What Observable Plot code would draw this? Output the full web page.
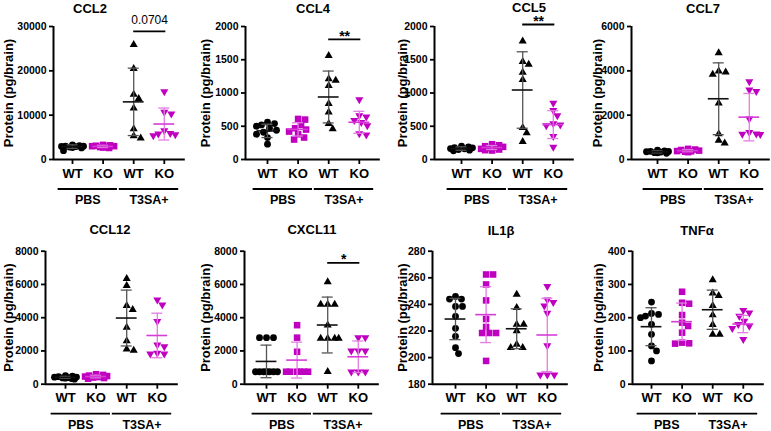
<!DOCTYPE html>
<html><head><meta charset="utf-8">
<script src="https://cdn.jsdelivr.net/npm/d3@7"></script>
<script src="https://cdn.jsdelivr.net/npm/@observablehq/plot@0.6"></script>
<style>
body{margin:0;background:#fff;}
#root{position:relative;width:771px;height:431px;overflow:hidden;background:#fff;font-family:Arial,"Liberation Sans",sans-serif;}
.panel{position:absolute;}
.title{position:absolute;transform:translate(-50%,-50%);font-weight:bold;font-size:13px;line-height:13px;white-space:nowrap;color:#000;}
</style></head><body><div id="root"></div>
<script>
// ---------- categories & labels ----------
const groupNames = ["PBS WT", "PBS KO", "T3SA+ WT", "T3SA+ KO"];
const genotypeLabels = ["WT", "KO", "WT", "KO"];
const treatmentLabels = ["PBS", "T3SA+"];
const panelTitles = ["CCL2", "CCL4", "CCL5", "CCL7", "CCL12", "CXCL11", "IL1β", "TNFα"];
const yLabel = "Protein (pg/brain)";

// ---------- tick labels ----------
const ccl2Ticks = [0, 10000, 20000, 30000];
const ccl4Ticks = [0, 500, 1000, 1500, 2000];
const ccl5Ticks = [0, 500, 1000, 1500, 2000];
const ccl7Ticks = [0, 2000, 4000, 6000];
const ccl12Ticks = [0, 2000, 4000, 6000, 8000];
const cxcl11Ticks = [0, 2000, 4000, 6000, 8000];
const il1bTicks = [180, 200, 220, 240, 260, 280];
const tnfaTicks = [0, 100, 200, 300, 400];

// ---------- values (per group: PBS WT, PBS KO, T3SA+ WT, T3SA+ KO) ----------
const ccl2Values = [
  [3300, 3100, 3000, 2950, 2900, 2800, 2700, 3000, 2600, 2000],
  [3300, 3200, 3100, 3000, 2900, 2800, 2700, 2600, 3000],
  [25900, 20500, 14700, 13700, 11600, 6900, 4800, 5300],
  [15300, 10700, 10300, 6500, 5900, 5800, 5600, 5400]];
const ccl2Means = [2900, 2950, 13000, 8000];
const ccl2SDs = [400, 250, 7600, 3600];
const ccl2Sig = {from: 2, to: 3, y: 28900, label: "0.0704"};

const ccl4Values = [
  [560, 540, 520, 500, 470, 440, 410, 380, 330, 230],
  [610, 600, 520, 470, 450, 420, 380, 330, 300],
  [1560, 1210, 1190, 1110, 840, 710, 540, 460],
  [900, 660, 640, 590, 560, 510, 390, 370]];
const ccl4Means = [430, 453, 940, 560];
const ccl4SDs = [100, 100, 390, 165];
const ccl4Sig = {from: 2, to: 3, y: 1805, label: "**"};

const ccl5Values = [
  [200, 190, 180, 175, 165, 160, 150, 140, 130],
  [230, 215, 200, 190, 180, 170, 160, 150, 140, 135],
  [1780, 1470, 1430, 1310, 1200, 480, 400, 270],
  [850, 740, 660, 540, 520, 510, 350, 185]];
const ccl5Means = [165, 180, 1045, 525];
const ccl5SDs = [25, 30, 575, 210];
const ccl5Sig = {from: 2, to: 3, y: 2030, label: "**"};

const ccl7Values = [
  [420, 390, 370, 350, 330, 310, 300, 280, 360],
  [480, 450, 430, 400, 380, 370, 350, 330],
  [4810, 3990, 3940, 3840, 2540, 1150, 860, 740],
  [3520, 3140, 3080, 1830, 1230, 1160, 1130, 1150]];
const ccl7Means = [345, 400, 2740, 1910];
const ccl7SDs = [45, 50, 1620, 1070];

const ccl12Values = [
  [520, 480, 450, 430, 420, 400, 380, 360, 340, 300],
  [600, 560, 520, 490, 460, 430, 400, 370, 330],
  [6350, 5930, 4720, 4480, 3420, 2610, 2110, 2030],
  [5080, 4780, 3780, 2370, 2270, 1870, 1830, 1830]];
const ccl12Means = [410, 460, 3980, 2930];
const ccl12SDs = [60, 80, 1680, 1340];

const cxcl11Values = [
  [2800, 2800, 2800, 750, 750, 750, 750, 750, 750, 750],
  [3550, 2800, 1950, 750, 750, 750, 750, 750, 750],
  [6150, 4800, 4800, 4800, 3550, 2750, 2750, 2750, 2750, 750],
  [2800, 2800, 2000, 2000, 2000, 750, 750, 750]];
const cxcl11Means = [1370, 1450, 3560, 1650];
const cxcl11SDs = [980, 1080, 1680, 950];
const cxcl11Sig = {from: 2, to: 3, y: 7296, label: "*"};

const il1bValues = [
  [246, 244, 244, 238.5, 238.5, 231, 222, 216, 207.5, 203],
  [262.5, 262.5, 255, 243, 229, 223, 218.5, 218.5, 218.5, 197.5],
  [247.5, 237.5, 225, 225, 220, 210, 207.5, 207.5],
  [253.5, 243.5, 241.5, 239, 233.5, 209, 187, 187, 187]];
const il1bMeans = [229, 232.3, 221.7, 217];
const il1bSDs = [15.5, 21, 15, 27.5];

const tnfaValues = [
  [247, 213, 210, 205, 200, 180, 150, 115, 100, 70],
  [278, 245, 242, 208, 185, 175, 155, 125, 123, 122],
  [314, 274, 266, 236, 208, 179, 150, 150],
  [222, 215, 205, 190, 180, 175, 168, 135]];
const tnfaMeans = [173, 188, 224, 181];
const tnfaSDs = [57, 56, 59, 26];

// ---------- assemble panels from the named arrays ----------
const panels = [
  {title: panelTitles[0], ticks: ccl2Ticks, values: ccl2Values, means: ccl2Means, sds: ccl2SDs, sig: ccl2Sig},
  {title: panelTitles[1], ticks: ccl4Ticks, values: ccl4Values, means: ccl4Means, sds: ccl4SDs, sig: ccl4Sig},
  {title: panelTitles[2], ticks: ccl5Ticks, values: ccl5Values, means: ccl5Means, sds: ccl5SDs, sig: ccl5Sig},
  {title: panelTitles[3], ticks: ccl7Ticks, values: ccl7Values, means: ccl7Means, sds: ccl7SDs, sig: null},
  {title: panelTitles[4], ticks: ccl12Ticks, values: ccl12Values, means: ccl12Means, sds: ccl12SDs, sig: null},
  {title: panelTitles[5], ticks: cxcl11Ticks, values: cxcl11Values, means: cxcl11Means, sds: cxcl11SDs, sig: cxcl11Sig},
  {title: panelTitles[6], ticks: il1bTicks, values: il1bValues, means: il1bMeans, sds: il1bSDs, sig: null},
  {title: panelTitles[7], ticks: tnfaTicks, values: tnfaValues, means: tnfaMeans, sds: tnfaSDs, sig: null}
];

// ---------- layout (pixels) ----------
const STEP = 30.6, FRAME_H = 133;
const layout = [
  {left: 0,   top: 0,   width: 200, height: 215, frameTop: 26,    axisX: 53,  g0: 72,  titleX: 90,  titleY: 8,   yLabelX: 8},
  {left: 190, top: 0,   width: 200, height: 215, frameTop: 26,    axisX: 245, g0: 267, titleX: 313, titleY: 8,   yLabelX: 205},
  {left: 380, top: 0,   width: 200, height: 215, frameTop: 26,    axisX: 434, g0: 461, titleX: 529, titleY: 6.5, yLabelX: 402},
  {left: 570, top: 0,   width: 201, height: 215, frameTop: 26,    axisX: 631, g0: 657, titleX: 703, titleY: 8,   yLabelX: 597},
  {left: 0,   top: 215, width: 200, height: 216, frameTop: 250.7, axisX: 45,  g0: 65,  titleX: 110, titleY: 229, yLabelX: 8},
  {left: 190, top: 215, width: 200, height: 216, frameTop: 250.7, axisX: 244, g0: 266, titleX: 312, titleY: 229, yLabelX: 205},
  {left: 380, top: 215, width: 200, height: 216, frameTop: 250.7, axisX: 432, g0: 455, titleX: 501, titleY: 230, yLabelX: 402},
  {left: 570, top: 215, width: 201, height: 216, frameTop: 250.7, axisX: 632, g0: 651, titleX: 697, titleY: 230, yLabelX: 598}
];

const WT_DOT = "#000000", KO_DOT = "#c000c0";
const WT_MEAN = "#111111", WT_BAR = "#555555", KO_MEAN = "#d63cd6", KO_BAR = "#e27de2";

const triangleDown = {
  draw(context, size) {
    const y = -Math.sqrt(size / (Math.sqrt(3) * 3));
    context.moveTo(0, -y * 2);
    context.lineTo(-Math.sqrt(3) * y, y);
    context.lineTo(Math.sqrt(3) * y, y);
    context.closePath();
  }
};
const groupSymbols = ["circle", "square", "triangle", triangleDown];
const groupFill = [WT_DOT, KO_DOT, WT_DOT, KO_DOT];
const groupR = [3.4, 3.7, 3.0, 3.0];
const groupMean = [WT_MEAN, KO_MEAN, WT_MEAN, KO_MEAN];
const groupBar = [WT_BAR, KO_BAR, WT_BAR, KO_BAR];

// deterministic beeswarm offsets (pixels) from values in pixel units
function swarm(ys, diam, maxHalf) {
  const order = d3.range(ys.length).sort((a, b) => ys[b] - ys[a]);
  const placed = [];
  const out = new Array(ys.length).fill(0);
  for (const i of order) {
    let chosen = null, bestOff = 0, bestD = -1;
    for (let k = 0; k <= 2 * maxHalf; k++) {
      const off = k === 0 ? 0 : (k % 2 ? 1 : -1) * Math.ceil(k / 2);
      let dmin = Infinity;
      for (const q of placed) dmin = Math.min(dmin, Math.hypot(q.x - off, q.y - ys[i]));
      if (dmin >= diam) { chosen = off; break; }
      if (dmin > bestD) { bestD = dmin; bestOff = off; }
    }
    const off = chosen ?? bestOff;
    placed.push({x: off, y: ys[i]});
    out[i] = off;
  }
  return out;
}

const root = document.getElementById("root");

panels.forEach((p, idx) => {
  const L = layout[idx];
  const marginTop = L.frameTop - L.top;
  const marginBottom = L.height - marginTop - FRAME_H;
  const xEnd = L.g0 + 3 * STEP + 21;
  const marginLeft = L.axisX - L.left;
  const marginRight = L.width - (xEnd - L.left);
  const x0 = (L.axisX - L.g0) / STEP;
  const x1 = (xEnd - L.g0) / STEP;
  const ymin = p.ticks[0], ymax = p.ticks[p.ticks.length - 1];
  const pxPerY = FRAME_H / (ymax - ymin);

  const groupDots = p.values.map((vals, g) => {
    const offs = swarm(vals.map(v => (v - ymin) * pxPerY), 6.4, 11);
    return vals.map((v, i) => ({g, name: groupNames[g], value: v, x: g + offs[i] / STEP}));
  });
  const stats = p.means.map((m, g) => ({g, mean: m, sd: p.sds[g]}));
  const caps = stats.flatMap(s => [{g: s.g, y: s.mean - s.sd}, {g: s.g, y: s.mean + s.sd}]);
  const treatments = treatmentLabels.map((t, i) => ({t, a: 2 * i, b: 2 * i + 1}));

  const marks = [
    Plot.ruleX([x0], {strokeWidth: 2}),
    Plot.ruleY([ymin], {strokeWidth: 2}),
    Plot.axisY({ticks: p.ticks, tickSize: 4, tickPadding: 3, tickFormat: d => String(d), label: null, strokeWidth: 1.8, fontSize: 10.5}),
    Plot.axisX({ticks: [0, 1, 2, 3], tickSize: 5, tickPadding: 4, tickFormat: i => genotypeLabels[i], label: null, strokeWidth: 1.8, fontSize: 13}),
    Plot.text([yLabel], {frameAnchor: "left", textAnchor: "middle", rotate: -90, dx: -(L.axisX - L.yLabelX), fontSize: 13, fontWeight: "bold"}),
    ...groupDots.map((d, g) => Plot.dot(d, {x: "x", y: "value", symbol: groupSymbols[g], r: groupR[g], fill: groupFill[g], stroke: "none"})),
    ...stats.map(s => Plot.ruleX([s], {x: "g", y1: d => d.mean - d.sd, y2: d => d.mean + d.sd, stroke: groupBar[s.g], strokeWidth: 1.3})),
    ...stats.map(s => Plot.ruleY(caps.filter(c => c.g === s.g), {y: "y", x1: d => d.g - 0.18, x2: d => d.g + 0.18, stroke: groupBar[s.g], strokeWidth: 1.3})),
    ...stats.map(s => Plot.ruleY([s], {y: "mean", x1: d => d.g - 0.34, x2: d => d.g + 0.34, stroke: groupMean[s.g], strokeWidth: 1.6})),
    Plot.ruleY(treatments, {y: () => ymin, x1: d => d.a - 0.47, x2: d => d.b + 0.47, dy: 29.5, strokeWidth: 1.8}),
    Plot.text(treatments, {x: d => (d.a + d.b) / 2, y: () => ymin, text: "t", dy: 40.5, fontSize: 12.5, fontWeight: "bold"})
  ];
  if (p.sig) {
    const isStar = /^\*+$/.test(p.sig.label);
    marks.push(Plot.ruleY([p.sig], {y: "y", x1: "from", x2: d => d.to + 0.05, strokeWidth: 1.8}));
    marks.push(Plot.text([p.sig], {x: d => (d.from + d.to) / 2 + 0.02, y: "y", text: "label",
      dy: isStar ? -3 : -11, fontSize: isStar ? 14 : 12, fontWeight: isStar ? "bold" : "normal"}));
  }

  const chart = Plot.plot({
    width: L.width, height: L.height,
    marginTop, marginBottom, marginLeft, marginRight,
    x: {type: "linear", domain: [x0, x1]},
    y: {domain: [ymin, ymax]},
    style: {background: "transparent", fontFamily: "Arial, 'Liberation Sans', sans-serif", fontWeight: "bold", fontSize: "10.5px", color: "#000", overflow: "visible"},
    marks
  });
  chart.classList.add("panel");
  chart.style.left = L.left + "px";
  chart.style.top = L.top + "px";
  root.appendChild(chart);

  const t = document.createElement("div");
  t.className = "title";
  t.textContent = p.title;
  t.style.left = L.titleX + "px";
  t.style.top = L.titleY + "px";
  root.appendChild(t);
});
</script></body></html>
